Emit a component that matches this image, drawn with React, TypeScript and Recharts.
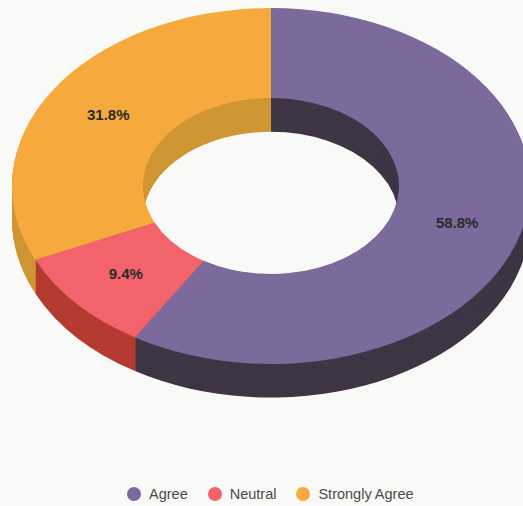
import React from "react";
import { PieChart, Pie, Cell } from "recharts";

const CATEGORIES = ["Agree", "Neutral", "Strongly Agree"];
const VALUES = [58.8, 9.4, 31.8];
const LABELS = ["58.8%", "9.4%", "31.8%"];

const TOP_COLORS = ["#7b6a9b", "#f2636b", "#f6a93c"];
const SIDE_COLORS = ["#3e3644", "#b53a2f", "#cf9634"];

const data = CATEGORIES.map((name, i) => ({
  name,
  value: VALUES[i],
  label: LABELS[i],
}));

// squash factor used to fake the tilted 3d donut
const SQUASH = 0.687;
const CX = 266;
const CY = 186 / SQUASH - 5;
const INNER = 128;
const OUTER = 259;
const DEPTH = 49;
const RADIAN = Math.PI / 180;

const layers: number[] = [];
for (let d = DEPTH; d > 0; d -= 2) layers.push(d);

const renderLabel = (props: any) => {
  const { cx, cy, midAngle, innerRadius, outerRadius, index } = props;
  const r = (innerRadius + outerRadius) / 2;
  const x = cx + r * Math.cos(-midAngle * RADIAN);
  const y = cy + r * Math.sin(-midAngle * RADIAN);
  return (
    <text
      transform={`translate(${x},${y}) scale(1,${1 / SQUASH})`}
      textAnchor="middle"
      dominantBaseline="central"
      fill="#2a2a2a"
      fontSize={15}
      fontWeight="bold"
      fontFamily="'Liberation Sans', Arial, sans-serif"
    >
      {data[index].label}
    </text>
  );
};

export default function App() {
  return (
    <div
      style={{
        position: "absolute",
        left: 0,
        top: 0,
        width: 523,
        height: 506,
        background: "#f9f9f8",
        overflow: "hidden",
      }}
    >
      <div
        style={{
          position: "absolute",
          left: 0,
          top: 0,
          width: 523,
          height: 620,
          transform: `scaleY(${SQUASH})`,
          transformOrigin: "top left",
        }}
      >
        <PieChart width={523} height={620}>
          {layers.map((d) => (
            <Pie
              key={"side" + d}
              data={data}
              dataKey="value"
              nameKey="name"
              cx={CX}
              cy={CY + d}
              innerRadius={INNER}
              outerRadius={OUTER}
              startAngle={90}
              endAngle={-270}
              stroke="none"
              isAnimationActive={false}
            >
              {data.map((entry, i) => (
                <Cell key={entry.name} fill={SIDE_COLORS[i]} />
              ))}
            </Pie>
          ))}
          <Pie
            data={data}
            dataKey="value"
            nameKey="name"
            cx={CX}
            cy={CY}
            innerRadius={INNER}
            outerRadius={OUTER}
            startAngle={90}
            endAngle={-270}
            stroke="none"
            label={renderLabel}
            labelLine={false}
            isAnimationActive={false}
          >
            {data.map((entry, i) => (
              <Cell key={entry.name} fill={TOP_COLORS[i]} />
            ))}
          </Pie>
        </PieChart>
      </div>
      <div
        style={{
          position: "absolute",
          left: 127,
          top: 486,
          display: "flex",
          alignItems: "center",
          fontFamily: "'Liberation Sans', Arial, sans-serif",
          fontSize: 14.5,
          color: "#4a4a4a",
        }}
      >
        {CATEGORIES.map((name, i) => (
          <div
            key={name}
            style={{ display: "flex", alignItems: "center", marginRight: 20 }}
          >
            <span
              style={{
                width: 14,
                height: 14,
                borderRadius: "50%",
                background: TOP_COLORS[i],
                marginRight: 8,
                display: "inline-block",
              }}
            />
            <span>{name}</span>
          </div>
        ))}
      </div>
    </div>
  );
}
